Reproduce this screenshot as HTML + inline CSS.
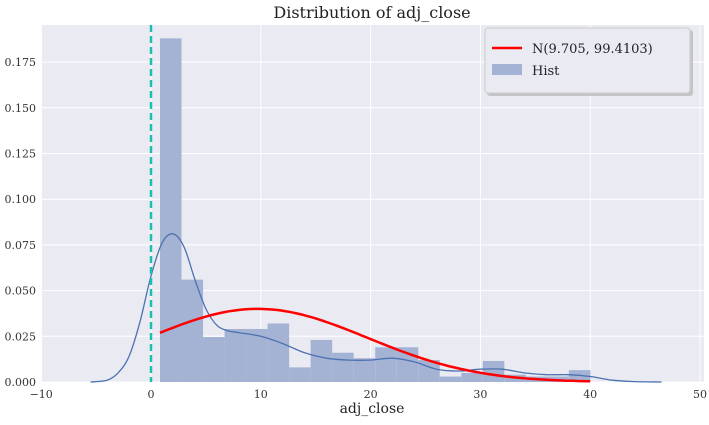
<!DOCTYPE html>
<html><head><meta charset="utf-8"><style>
body{margin:0;background:#fff;}
svg text{font-family:"DejaVu Serif","Liberation Serif",serif;}
</style></head><body>
<svg id="chart" width="709" height="420" xmlns="http://www.w3.org/2000/svg">
<text x="372" y="18" text-anchor="middle" font-size="16" fill="#222">Distribution of adj_close</text>
<rect x="42" y="25" width="662" height="357" fill="#eaeaf2"/>
<g id="grid"></g><g id="bars"></g><g id="lines"></g><g id="ticks"></g>
<text x="372" y="413" text-anchor="middle" font-size="14" fill="#222">adj_close</text>
<g>
<rect x="487" y="30" width="206" height="66" rx="3" fill="#aaa" opacity="0.6"/>
<rect x="485" y="28" width="205" height="65" rx="3" fill="#eaeaf2" stroke="#ccc"/>
<line x1="492" y1="48" x2="522" y2="48" stroke="#ff0000" stroke-width="2.5"/>
<text x="532" y="53" font-size="13" fill="#222">N(9.705, 99.4103)</text>
<rect x="492" y="64" width="30" height="11" fill="#a4b3d3"/>
<text x="532" y="75" font-size="13" fill="#222">Hist</text>
</g>
</svg>
<script>
const binStart=0.82, binWidth=1.96;
const histValues=[0.188,0.056,0.0246,0.029,0.029,0.032,0.008,0.023,0.016,0.013,0.019,0.019,0.012,0.003,0.005,0.0115,0.004,0.003,0.003,0.0065];
const kdeX=[-5.5,-4,-3,-2,-1,0,1,2,3,4,5,6,7,8,10,12,14,16,18,20,22,24,26,28,30,32,34,36,38,40,42,44,46.5];
const kdeY=[0,0.001,0.005,0.014,0.033,0.058,0.076,0.081,0.074,0.056,0.040,0.031,0.028,0.027,0.025,0.021,0.016,0.013,0.012,0.012,0.013,0.011,0.007,0.006,0.007,0.007,0.005,0.004,0.004,0.003,0.001,0.0002,0];
const normMean=9.705, normVar=99.4103, normRange=[0.82,40.0];
const xTicks=[-10,0,10,20,30,40,50];
const yTicks=[0,0.025,0.05,0.075,0.1,0.125,0.15,0.175];
const X=v=>151+v*10.98, Y=v=>382-v*1828;
const NS='http://www.w3.org/2000/svg';
function mk(tag,attrs,parent){const e=document.createElementNS(NS,tag);for(const k in attrs)e.setAttribute(k,attrs[k]);document.getElementById(parent).appendChild(e);return e;}
xTicks.forEach(t=>{const l=mk('line',{x1:X(t),x2:X(t),y1:25,y2:382,stroke:'#fff','stroke-width':1},'grid');


const tx=mk('text',{x:X(t),y:398,'text-anchor':'middle','font-size':11,fill:'#333'},'ticks');tx.textContent=t<0?'\u2212'+(-t):t;

});
yTicks.forEach(t=>{const l=mk('line',{x1:42,x2:704,y1:Y(t),y2:Y(t),stroke:'#fff','stroke-width':1},'grid');


const tx=mk('text',{x:36,y:Y(t)+4,'text-anchor':'end','font-size':11,fill:'#333'},'ticks');tx.textContent=t.toFixed(3);

});
histValues.forEach((v,i)=>{const x0=X(binStart+i*binWidth),x1=X(binStart+(i+1)*binWidth);
const r=mk('rect',{x:x0,y:Y(v),width:x1-x0,height:Y(0)-Y(v),fill:'#a4b3d3'},'bars');

});
const pts=kdeX.map((x,i)=>[X(x),Y(kdeY[i])]);
let d='M'+pts[0][0]+','+pts[0][1];
for(let i=0;i<pts.length-1;i++){const p0=pts[Math.max(i-1,0)],p1=pts[i],p2=pts[i+1],p3=pts[Math.min(i+2,pts.length-1)];
const c1=[p1[0]+(p2[0]-p0[0])/6,p1[1]+(p2[1]-p0[1])/6],c2=[p2[0]-(p3[0]-p1[0])/6,p2[1]-(p3[1]-p1[1])/6];
d+='C'+c1[0].toFixed(1)+','+c1[1].toFixed(1)+' '+c2[0].toFixed(1)+','+c2[1].toFixed(1)+' '+p2[0].toFixed(1)+','+p2[1].toFixed(1);}
const k=mk('path',{d:d,fill:'none',stroke:'#4c72b0','stroke-width':1.3,'stroke-linejoin':'round'},'lines');


let nd='';const sd=Math.sqrt(normVar);
for(let i=0;i<=100;i++){const x=normRange[0]+(normRange[1]-normRange[0])*i/100;const y=Math.exp(-Math.pow(x-normMean,2)/(2*normVar))/(sd*Math.sqrt(2*Math.PI));nd+=(i?'L':'M')+X(x).toFixed(1)+','+Y(y).toFixed(1);}
const n=mk('path',{d:nd,fill:'none',stroke:'#ff0000','stroke-width':2.5},'lines');


const z=mk('line',{x1:X(0),x2:X(0),y1:25,y2:382,stroke:'#1abfb0','stroke-width':2.5,'stroke-dasharray':'7,4'},'lines');


</script>
</body></html>
